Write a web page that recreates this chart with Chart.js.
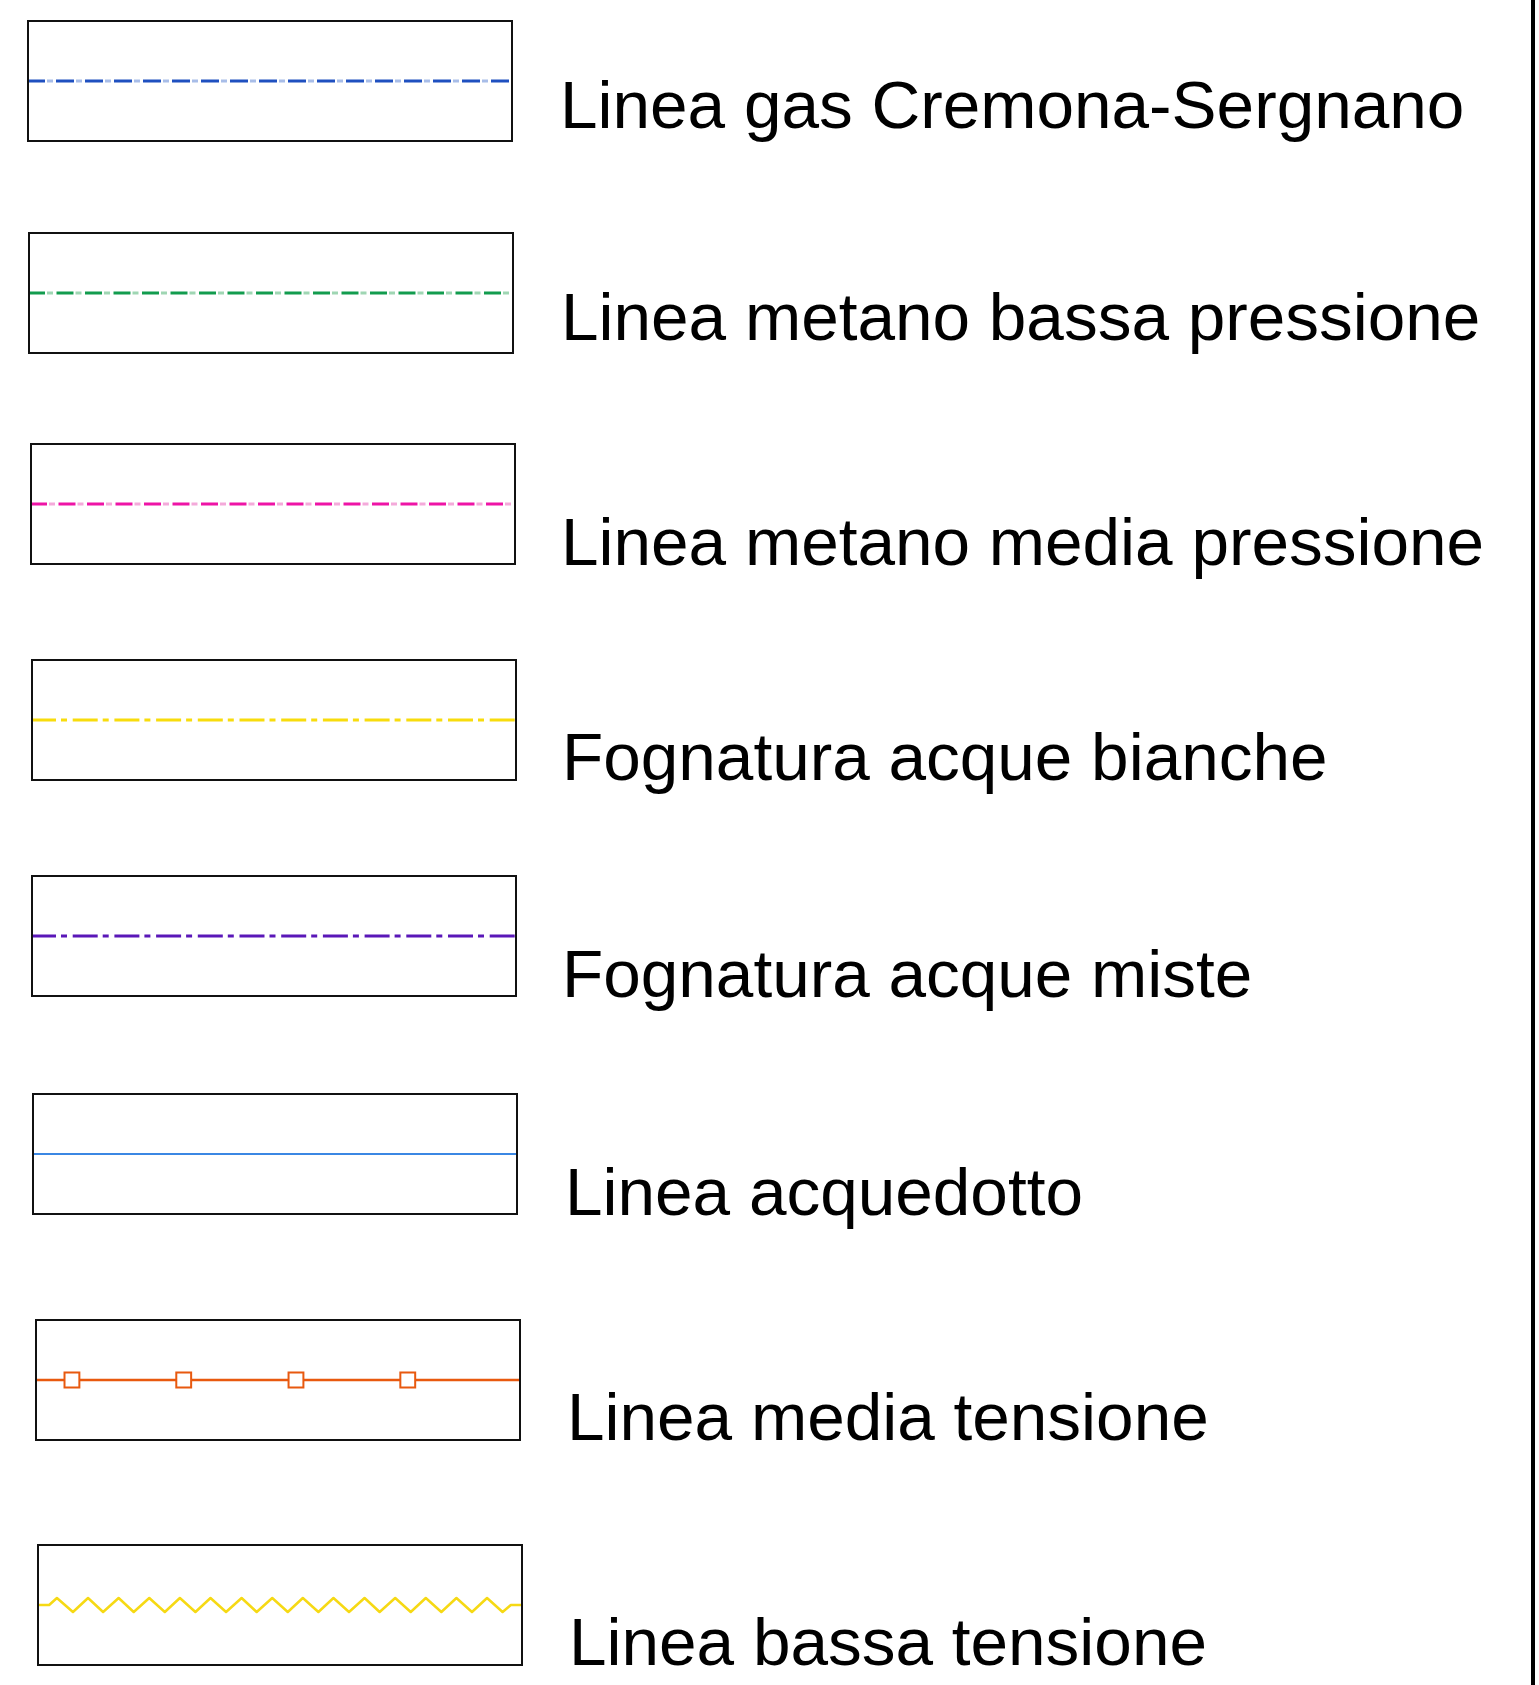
<!DOCTYPE html>
<html>
<head>
<meta charset="utf-8">
<title>Legenda sottoservizi</title>
<script src="https://cdn.jsdelivr.net/npm/chart.js@4.4.1/dist/chart.umd.min.js"></script>
<style>
    html, body { margin: 0; padding: 0; background: #fff; }
    #page { position: relative; width: 1539px; height: 1685px; overflow: hidden; }
    .swatch { position: absolute; width: 486px; height: 122px; }
    .label {
        position: absolute;
        font-family: "Liberation Sans", Arial, Helvetica, sans-serif;
        font-size: 67.5px;
        line-height: 67.5px;
        color: #000;
        white-space: nowrap;
    }
    #rule { position: absolute; left: 1531px; top: 0; width: 4px; height: 1685px; background: #000; }
</style>
</head>
<body>
<div id="page"><div id="rule"></div></div>
<script>
const legendLabels = [
    'Linea gas Cremona-Sergnano',
    'Linea metano bassa pressione',
    'Linea metano media pressione',
    'Fognatura acque bianche',
    'Fognatura acque miste',
    'Linea acquedotto',
    'Linea media tensione',
    'Linea bassa tensione'
];

// straight sample line, across the whole box (x in % of the box)
const lineX = [0, 100];
const lineY = [0, 0];

// media tensione: line with square markers
const markerX = [0, 7.6, 30.6, 53.7, 76.7, 100];
const markerY = [0, 0, 0, 0, 0, 0];

// bassa tensione: zigzag
const zigzagX = [0, 2.5, 4.1, 7.4, 10.5, 13.6, 16.8, 19.9, 23.1, 26.3, 29.4, 32.6, 35.7, 38.9, 42.1, 45.2,
    48.4, 51.6, 54.7, 57.9, 61.0, 64.2, 67.4, 70.5, 73.7, 76.9, 80.0, 83.2, 86.3, 89.5, 92.6, 95.8, 97.5, 100];
const zigzagY = [0, 0, 7, -7, 7, -7, 7, -7, 7, -7, 7, -7, 7, -7, 7, -7,
    7, -7, 7, -7, 7, -7, 7, -7, 7, -7, 7, -7, 7, -7, 7, -7, 0, 0];

// layout (px)
const boxLeft = [27, 28, 30, 31, 31, 32, 35, 37];
const boxTop = [20, 232, 443, 659, 875, 1093, 1319, 1544];
const textLeft = [560, 561, 561, 562, 562, 565, 567, 569];
const textBase = [128, 340, 565, 780, 997, 1215, 1440, 1665];

const rowStyles = [
    { color: '#1f50c0', width: 3, dash: [18, 11], dot: '#a8bde8' },
    { color: '#129c4e', width: 3, dash: [17, 11.5], dot: '#9fd6b3' },
    { color: '#ee14a6', width: 3, dash: [17, 11.5], dot: '#f4a9da' },
    { color: '#f8dc0c', width: 3, dash: [25, 5, 6, 5.7] },
    { color: '#5a17b8', width: 3, dash: [25, 5, 6, 5.7] },
    { color: '#3b87e3', width: 2 },
    { color: '#e8590f', width: 2.5, markers: true },
    { color: '#f6d914', width: 2.5, zigzag: true }
];

const toPoints = (xs, ys) => xs.map((x, i) => ({ x: x, y: ys[i] }));

const framePlugin = {
    id: 'frame',
    afterDraw(chart) {
        const { ctx, chartArea: a } = chart;
        ctx.save();
        ctx.strokeStyle = '#111';
        ctx.lineWidth = 2;
        ctx.strokeRect(a.left + 1, a.top + 1, a.right - a.left - 2, a.bottom - a.top - 2);
        ctx.restore();
    }
};

const buildDatasets = (style) => {
    if (style.zigzag) {
        return [{
            data: toPoints(zigzagX, zigzagY),
            borderColor: style.color,
            borderWidth: style.width,
            pointRadius: 0,
            borderJoinStyle: 'round'
        }];
    }
    if (style.markers) {
        const last = markerX.length - 1;
        return [{
            data: toPoints(markerX, markerY),
            borderColor: style.color,
            borderWidth: style.width,
            pointStyle: 'rect',
            pointRadius: ctx => (ctx.dataIndex === 0 || ctx.dataIndex === last) ? 0 : 10.5,
            pointBackgroundColor: '#fff',
            pointBorderColor: style.color,
            pointBorderWidth: 2
        }];
    }
    const sets = [{
        data: toPoints(lineX, lineY),
        borderColor: style.color,
        borderWidth: style.width,
        borderDash: style.dash || [],
        pointRadius: 0
    }];
    if (style.dot) {
        // the light dot sitting in the gap of each dash
        const period = style.dash[0] + style.dash[1];
        sets.push({
            data: toPoints(lineX, lineY),
            borderColor: style.dot,
            borderWidth: style.width,
            borderDash: [6, period - 6],
            borderDashOffset: period - style.dash[0] - 2,
            pointRadius: 0
        });
    }
    return sets;
};

const page = document.getElementById('page');

legendLabels.forEach((text, i) => {
    const box = document.createElement('div');
    box.className = 'swatch';
    box.style.left = boxLeft[i] + 'px';
    box.style.top = boxTop[i] + 'px';
    const canvas = document.createElement('canvas');
    box.appendChild(canvas);
    page.appendChild(box);

    new Chart(canvas.getContext('2d'), {
        type: 'line',
        data: { datasets: buildDatasets(rowStyles[i]) },
        options: {
            responsive: true,
            maintainAspectRatio: false,
            animation: false,
            events: [],
            layout: { padding: 0, autoPadding: false },
            plugins: { legend: { display: false }, tooltip: { enabled: false } },
            scales: {
                x: { type: 'linear', min: 0, max: 100, display: false },
                y: { type: 'linear', min: -61, max: 61, display: false }
            }
        },
        plugins: [framePlugin]
    });

    const label = document.createElement('div');
    label.className = 'label';
    label.textContent = text;
    label.style.left = textLeft[i] + 'px';
    label.style.top = (textBase[i] - 57) + 'px';
    page.appendChild(label);
});
</script>
</body>
</html>
